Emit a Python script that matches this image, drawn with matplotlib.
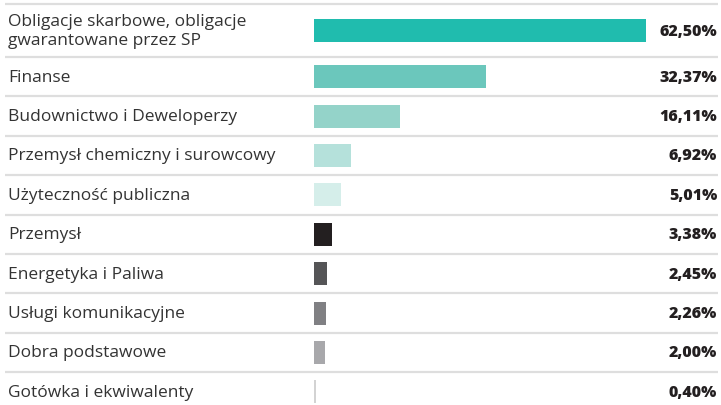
import matplotlib.pyplot as plt
from matplotlib.transforms import blended_transform_factory

# Data
categories = [
    'Obligacje skarbowe, obligacje\ngwarantowane przez SP',
    'Finanse',
    'Budownictwo i Deweloperzy',
    'Przemysł chemiczny i surowcowy',
    'Użyteczność publiczna',
    'Przemysł',
    'Energetyka i Paliwa',
    'Usługi komunikacyjne',
    'Dobra podstawowe',
    'Gotówka i ekwiwalenty',
]
values = [62.50, 32.37, 16.11, 6.92, 5.01, 3.38, 2.45, 2.26, 2.00, 0.40]
colors = ['#20bcae', '#6bc7bc', '#94d3c9', '#b5e1db', '#d5eeea',
          '#231f20', '#555557', '#808083', '#a8a8ab', '#d3d3d3']

W, H = 721, 406
fig = plt.figure(figsize=(W / 100, H / 100), dpi=100)

# row boundaries in pixels (first row is taller, holds two lines)
bounds = [5, 58] + [58 + 39.4 * k for k in range(1, 10)]
centers = [(bounds[i] + bounds[i + 1]) / 2 for i in range(10)]

px_per_pct = 5.31
bar_left = 314
ax = fig.add_axes([bar_left / W, 0, (W - bar_left) / W, 1])
ax.set_xlim(0, (W - bar_left) / px_per_pct)
ax.set_ylim(H, 0)
ax.axis('off')

ax.barh(centers, values, height=23, color=colors, left=0.0)

# separator lines across the full width
lt = blended_transform_factory(fig.transFigure, ax.transData)
for b in bounds[:-1]:
    ax.plot([5 / W, 718 / W], [b, b], color='#dedede', lw=1.6,
            transform=lt, clip_on=False, solid_capstyle='butt')

for c, lab, v in zip(centers, categories, values):
    ax.text(8 / W, c, lab, transform=lt, ha='left', va='center',
            fontsize=12.5, family='Open Sans', color='#333333', linespacing=1.3)
    ax.text(717 / W, c, f'{v:.2f}%'.replace('.', ','), transform=lt,
            ha='right', va='center', fontsize=11.5, family='Open Sans',
            fontweight='heavy', color='#231f20')

fig.savefig('out.png', dpi=100)
